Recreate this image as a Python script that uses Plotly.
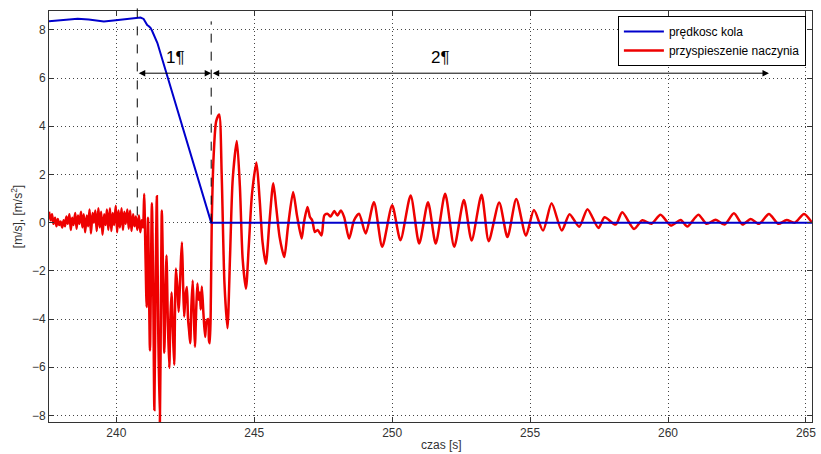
import plotly.graph_objects as go

# ---- data ----
speed_t = [237.56, 237.9, 238.3, 238.6, 239.0, 239.3, 239.55, 239.9, 240.3, 240.6,
           240.88, 240.99, 241.06, 241.12, 241.18, 241.24, 241.3, 241.49, 243.44, 265.22]
speed_v = [8.35, 8.38, 8.43, 8.46, 8.43, 8.38, 8.35, 8.39, 8.45, 8.47,
           8.51, 8.45, 8.3, 8.2, 8.15, 8.08, 7.95, 7.45, 0.0, 0.0]

acc_t = [237.56, 237.62, 237.67, 237.72, 237.78, 237.83, 237.88, 237.93, 237.98, 238.04,
         238.09, 238.14, 238.19, 238.24, 238.30, 238.35, 238.40, 238.45, 238.51, 238.56,
         238.61, 238.66, 238.72, 238.77, 238.82, 238.87, 238.93, 238.98, 239.03, 239.08,
         239.14, 239.19, 239.24, 239.29, 239.35, 239.40, 239.45, 239.50, 239.56, 239.61,
         239.66, 239.71, 239.77, 239.82, 239.87, 239.92, 239.98, 240.03, 240.08, 240.13,
         240.19, 240.24, 240.29, 240.34, 240.40, 240.45, 240.50, 240.55, 240.61, 240.66,
         240.71, 240.76, 240.82, 240.87, 240.92, 240.97,
         241.01, 241.06, 241.10, 241.15, 241.22, 241.29, 241.34, 241.38, 241.43, 241.47,
         241.52, 241.58, 241.62, 241.65, 241.70, 241.74, 241.78, 241.82, 241.87, 241.92,
         241.96, 242.00, 242.05, 242.10, 242.13, 242.16, 242.21, 242.26, 242.30, 242.34,
         242.38, 242.42, 242.46, 242.51, 242.56, 242.60, 242.64, 242.68, 242.72, 242.77,
         242.81, 242.85, 242.90, 242.94, 242.98, 243.03, 243.06, 243.10, 243.16, 243.22,
         243.27, 243.33, 243.36, 243.39, 243.43, 243.46,
         243.53, 243.62, 243.73, 243.82, 243.92, 244.03, 244.12, 244.22, 244.37, 244.48,
         244.58, 244.70, 244.80, 244.92, 245.08, 245.20, 245.30, 245.42, 245.55, 245.69,
         245.80, 245.92, 246.09, 246.22, 246.41, 246.55, 246.72, 246.80, 246.93, 247.02,
         247.10, 247.20, 247.30, 247.44, 247.54, 247.65, 247.77, 247.90, 248.02, 248.14,
         248.26, 248.44, 248.62, 248.80, 249.04, 249.34, 249.64, 250.00, 250.30, 250.67,
         250.98, 251.30, 251.58, 251.92, 252.25, 252.60, 252.88, 253.24, 253.50, 253.88,
         254.18, 254.50, 254.85, 255.14, 255.47, 255.78, 256.15, 256.43, 256.78, 257.08,
         257.48, 257.70, 258.10, 258.34, 258.77, 259.07, 259.40, 259.73, 260.10, 260.46,
         260.70, 261.10, 261.40, 261.73, 262.05, 262.39, 262.70, 263.00, 263.30, 263.66,
         264.00, 264.30, 264.60, 264.93, 265.22]
acc_v = [0.45, 0.1, 0.35, -0.05, 0.2, -0.15, 0.15, -0.1, 0.05, -0.2,
         0.1, -0.15, 0.25, -0.05, 0.35, -0.3, 0.2, -0.1, 0.4, -0.25,
         0.3, -0.05, 0.45, -0.2, 0.35, -0.4, 0.3, -0.15, 0.55, -0.45,
         0.4, 0.0, 0.5, -0.35, 0.6, -0.2, 0.45, -0.5, 0.35, -0.1,
         0.55, -0.3, 0.6, -0.35, 0.4, -0.1, 0.7, -0.4, 0.5, -0.2,
         0.6, -0.3, 0.45, -0.05, 0.55, -0.25, 0.5, -0.35, 0.35, -0.15,
         0.25, -0.3, 0.3, -0.4, 0.1, -0.2,
         1.19, -1.5, -3.5, 0.2, -5.3, 0.8, -3.0, -7.77, -2.0, 1.1,
         -4.5, -8.3, -3.0, 0.5, -2.5, -5.4, -3.2, -1.36, -4.2, -6.03,
         -4.0, -2.9, -4.5, -5.9, -3.5, -1.9, -2.6, -3.7, -2.8, -1.6,
         -0.81, -2.5, -3.9, -3.0, -2.67, -4.0, -4.5, -5.0, -3.5, -2.4,
         -3.8, -5.15, -3.5, -2.52, -3.2, -2.9, -3.6, -2.65, -3.8, -4.74,
         -4.1, -4.0, -4.9, -5.0, -3.0, 0.0,
         2.8, 4.2, 4.49, 2.0, -2.5, -4.38, -1.5, 1.8, 3.39, 1.5,
         -1.5, -2.74, -1.0, 1.2, 2.49, 0.9, -0.8, -1.71, 0.0, 1.63,
         0.6, -0.6, -1.43, -0.2, 1.27, 0.3, -0.66, 0.0, 0.65, 0.23,
         0.1, -0.39, -0.3, -0.53, 0.3, 0.37, 0.25, 0.48, 0.3, 0.5,
         0.23, -0.66, 0.1, 0.37, -0.45, 0.85, -1.0, 0.72, -0.73, 1.13,
         -0.87, 0.85, -0.87, 1.2, -1.0, 0.94, -0.74, 1.16, -0.77, 0.84,
         -0.6, 0.98, -0.54, 0.52, -0.33, 0.8, -0.33, 0.35, -0.17, 0.56,
         -0.22, 0.22, -0.08, 0.43, -0.26, 0.1, -0.05, 0.33, -0.12, 0.11,
         -0.16, 0.33, -0.05, 0.12, -0.08, 0.39, -0.08, 0.15, -0.05, 0.36,
         -0.05, 0.11, 0.0, 0.36, 0.0]

x_ticks = [240, 245, 250, 255, 260, 265]
y_ticks = [-8, -6, -4, -2, 0, 2, 4, 6, 8]
series_names = ["prędkosc kola", "przyspieszenie naczynia"]

phase_bounds = [240.76, 243.44, 263.66]   # dashed markers / arrow ends
arrow_level = 6.2
phase_labels = ["1¶", "2¶"]

X_RANGE = [237.56, 265.22]
Y_RANGE = [-8.27, 8.78]

FONT = "Arial, Liberation Sans, sans-serif"

fig = go.Figure()
fig.add_trace(go.Scatter(x=acc_t, y=acc_v, mode="lines", name=series_names[1],
                         line=dict(color="#ee0000", width=2.5, shape="spline", smoothing=0.7),
                         legendrank=2))
fig.add_trace(go.Scatter(x=speed_t, y=speed_v, mode="lines", name=series_names[0],
                         line=dict(color="#0000cc", width=2),
                         legendrank=1))

def ypaper(v):
    return (v - Y_RANGE[0]) / (Y_RANGE[1] - Y_RANGE[0])

def xpaper(v):
    return (v - X_RANGE[0]) / (X_RANGE[1] - X_RANGE[0])

# dashed vertical markers (paper refs so they may extend above the frame)
fig.add_shape(type="line", xref="paper", yref="paper",
              x0=xpaper(phase_bounds[0]), x1=xpaper(phase_bounds[0]),
              y0=ypaper(0.3), y1=1.03, line=dict(color="black", width=1, dash="dash"))
fig.add_shape(type="line", xref="paper", yref="paper",
              x0=xpaper(phase_bounds[1]), x1=xpaper(phase_bounds[1]),
              y0=ypaper(0.0), y1=ypaper(8.35), line=dict(color="black", width=1, dash="dash"))

# double arrows
for a, b in [(phase_bounds[0], phase_bounds[1]), (phase_bounds[1], phase_bounds[2])]:
    fig.add_annotation(x=b, y=arrow_level, ax=a, ay=arrow_level, axref="x", ayref="y",
                       xref="x", yref="y", text="", showarrow=True,
                       arrowside="end+start", arrowhead=2, startarrowhead=2,
                       arrowsize=1.3, startarrowsize=1.3, arrowwidth=1, arrowcolor="black")

fig.add_annotation(x=242.15, y=6.85, xref="x", yref="y", text=phase_labels[0], showarrow=False,
                   font=dict(family=FONT, size=17, color="black"))
fig.add_annotation(x=251.75, y=6.85, xref="x", yref="y", text=phase_labels[1], showarrow=False,
                   font=dict(family=FONT, size=17, color="black"))

fig.add_annotation(x=0.514, y=-0.056, xref="paper", yref="paper", text="czas [s]",
                   showarrow=False, yanchor="middle",
                   font=dict(family=FONT, size=12, color="#333"))

axis_common = dict(showline=True, linecolor="#333", linewidth=1, mirror="ticks",
                   ticks="inside", ticklen=5, tickcolor="#333",
                   showgrid=True, gridcolor="#444", gridwidth=1, griddash="1px,3px",
                   zeroline=False, tickfont=dict(family=FONT, size=12, color="#333"))

fig.update_xaxes(range=X_RANGE, tickvals=x_ticks, **axis_common)
fig.update_yaxes(range=Y_RANGE, tickvals=y_ticks,
                 title=dict(text="[m/s], [m/s<sup>2</sup>]", standoff=6,
                            font=dict(family=FONT, size=12, color="#333")),
                 **axis_common)

fig.update_layout(
    width=821, height=454,
    margin=dict(l=49, r=5, t=11, b=32),
    paper_bgcolor="white", plot_bgcolor="white",
    font=dict(family=FONT, size=12, color="#333"),
    legend=dict(x=0.992, y=0.988, xanchor="right", yanchor="top",
                bgcolor="white", bordercolor="black", borderwidth=1,
                font=dict(family=FONT, size=12, color="black"),
                itemwidth=40, tracegroupgap=0),
    showlegend=True,
)

fig.write_html("out.html", config={"displayModeBar": False},
               post_script="document.body.style.margin='0';")
